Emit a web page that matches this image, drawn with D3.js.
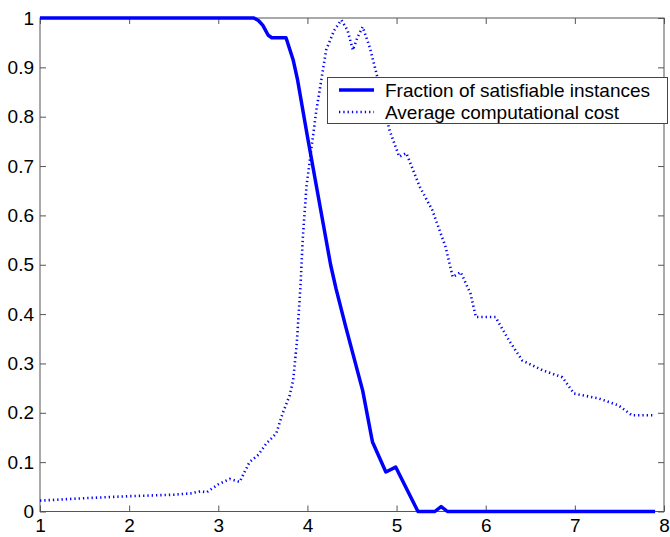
<!DOCTYPE html>
<html>
<head>
<meta charset="utf-8">
<script src="https://cdn.jsdelivr.net/npm/d3@7"></script>
<style>
body { margin: 0; background: #fff; overflow: hidden; }
svg { display: block; font-family: "Liberation Sans", Arial, sans-serif; }
.tick-label { font-size: 19px; fill: #000; }
.legend-text { font-size: 19px; fill: #000; }
</style>
</head>
<body>
<svg id="chart" width="670" height="537"></svg>
<script>
// fraction of satisfiable instances (solid)
var satX = [1.0, 3.4, 3.45, 3.5, 3.56, 3.6, 3.76, 3.84, 3.89, 4.0, 4.1, 4.18, 4.26, 4.32, 4.43, 4.62, 4.72, 4.73, 4.88, 4.99, 5.24, 5.43, 5.5, 5.57, 7.9];
var satY = [1.0, 1.0, 0.995, 0.985, 0.965, 0.96, 0.96, 0.915, 0.874, 0.76, 0.66, 0.58, 0.5, 0.452, 0.374, 0.245, 0.15, 0.141, 0.08, 0.09, 0.0, 0.0, 0.01, 0.0, 0.0];

// average computational cost (dotted)
var costX = [1.0, 1.5, 2.0, 2.5, 2.7, 2.8, 2.87, 3.0, 3.13, 3.24, 3.35, 3.45, 3.54, 3.65, 3.72, 3.8, 3.84, 3.88, 3.92, 3.95, 3.99, 4.1, 4.21, 4.3, 4.38, 4.45, 4.51, 4.56, 4.62, 4.7, 4.77, 4.85, 4.92, 5.03, 5.11, 5.26, 5.4, 5.55, 5.63, 5.72, 5.83, 5.89, 6.11, 6.26, 6.41, 6.64, 6.86, 6.99, 7.27, 7.49, 7.64, 7.9];
var costY = [0.022, 0.027, 0.031, 0.034, 0.037, 0.041, 0.039, 0.055, 0.066, 0.06, 0.1, 0.115, 0.138, 0.158, 0.198, 0.235, 0.266, 0.34, 0.45, 0.56, 0.66, 0.813, 0.935, 0.975, 0.996, 0.975, 0.935, 0.96, 0.982, 0.94, 0.891, 0.83, 0.773, 0.719, 0.726, 0.658, 0.611, 0.536, 0.475, 0.485, 0.441, 0.394, 0.394, 0.347, 0.306, 0.286, 0.272, 0.239, 0.229, 0.215, 0.195, 0.195];

var xTicks = [1, 2, 3, 4, 5, 6, 7, 8];
var yTicks = [0, 0.1, 0.2, 0.3, 0.4, 0.5, 0.6, 0.7, 0.8, 0.9, 1];
var legendLabels = ["Fraction of satisfiable instances", "Average computational cost"];

var plotLeft = 40, plotRight = 664, plotTop = 18, plotBottom = 511.5;
var tickLen = 6;

var svg = d3.select('#chart');

var xScale = d3.scaleLinear().domain([1, 8]).range([plotLeft, plotRight]);
var yScale = d3.scaleLinear().domain([0, 1]).range([plotBottom, plotTop]);

// axes box with inward ticks on all four sides
var axisColor = '#555';
svg.append('rect')
	.attr('x', plotLeft)
	.attr('y', plotTop)
	.attr('width', plotRight - plotLeft)
	.attr('height', plotBottom - plotTop)
	.attr('fill', 'none')
	.attr('stroke', axisColor)
	.attr('stroke-width', 1);

var xAxisBottom = d3.axisBottom(xScale).tickValues(xTicks).tickSizeInner(-tickLen).tickSizeOuter(0).tickPadding(7).tickFormat(d3.format('d'));
var xAxisTop = d3.axisTop(xScale).tickValues(xTicks).tickSizeInner(-tickLen).tickSizeOuter(0).tickFormat('');
var yAxisLeft = d3.axisLeft(yScale).tickValues(yTicks).tickSizeInner(-tickLen).tickSizeOuter(0).tickPadding(6)
	.tickFormat(function(d){ return d === 0 || d === 1 ? d3.format('d')(d) : d3.format('.1f')(d); });
var yAxisRight = d3.axisRight(yScale).tickValues(yTicks).tickSizeInner(-tickLen).tickSizeOuter(0).tickFormat('');

function styleAxis(g)
{
	g.select('.domain').remove();
	g.selectAll('.tick line').attr('stroke', axisColor);
	g.selectAll('.tick text')
		.attr('class', 'tick-label')
		.attr('fill', '#000');
	g.attr('font-family', null).attr('font-size', null);
}

svg.append('g').attr('transform', 'translate(0,' + plotBottom + ')').call(xAxisBottom).call(styleAxis);
svg.append('g').attr('transform', 'translate(0,' + plotTop + ')').call(xAxisTop).call(styleAxis);
svg.append('g').attr('transform', 'translate(' + plotLeft + ',0)').call(yAxisLeft).call(styleAxis);
svg.append('g').attr('transform', 'translate(' + plotRight + ',0)').call(yAxisRight).call(styleAxis);

var line = d3.line()
	.x(function(d){ return xScale(d[0]); })
	.y(function(d){ return yScale(d[1]); });

var costData = costX.map(function(x, i){ return [x, costY[i]]; });
var satData = satX.map(function(x, i){ return [x, satY[i]]; });

svg.append('path')
	.datum(costData)
	.attr('d', line)
	.attr('fill', 'none')
	.attr('stroke', '#0000ff')
	.attr('stroke-width', 2.6)
	.attr('stroke-dasharray', '1.3,3');

svg.append('path')
	.datum(satData)
	.attr('d', line)
	.attr('fill', 'none')
	.attr('stroke', '#0000ff')
	.attr('stroke-width', 3.5)
	.attr('stroke-linejoin', 'round');

// legend
var legend = svg.append('g').attr('class', 'legend');
legend.append('rect')
	.attr('x', 327.5)
	.attr('y', 77.5)
	.attr('width', 340)
	.attr('height', 46)
	.attr('fill', '#fff')
	.attr('stroke', '#444')
	.attr('stroke-width', 1);

var rows = legend.selectAll('g.row')
	.data(legendLabels).enter()
	.append('g')
	.attr('class', 'row')
	.attr('transform', function(d, i){ return 'translate(0,' + (90 + i * 22) + ')'; });

rows.append('line')
	.attr('x1', 339)
	.attr('x2', 374)
	.attr('y1', 0)
	.attr('y2', 0)
	.attr('stroke', '#0000ff')
	.attr('stroke-width', function(d, i){ return i === 0 ? 3.5 : 2.6; })
	.attr('stroke-dasharray', function(d, i){ return i === 0 ? null : '1.3,3'; });

rows.append('text')
	.attr('class', 'legend-text')
	.attr('x', 385)
	.attr('y', 7)
	.text(function(d){ return d; });
</script>
</body>
</html>
